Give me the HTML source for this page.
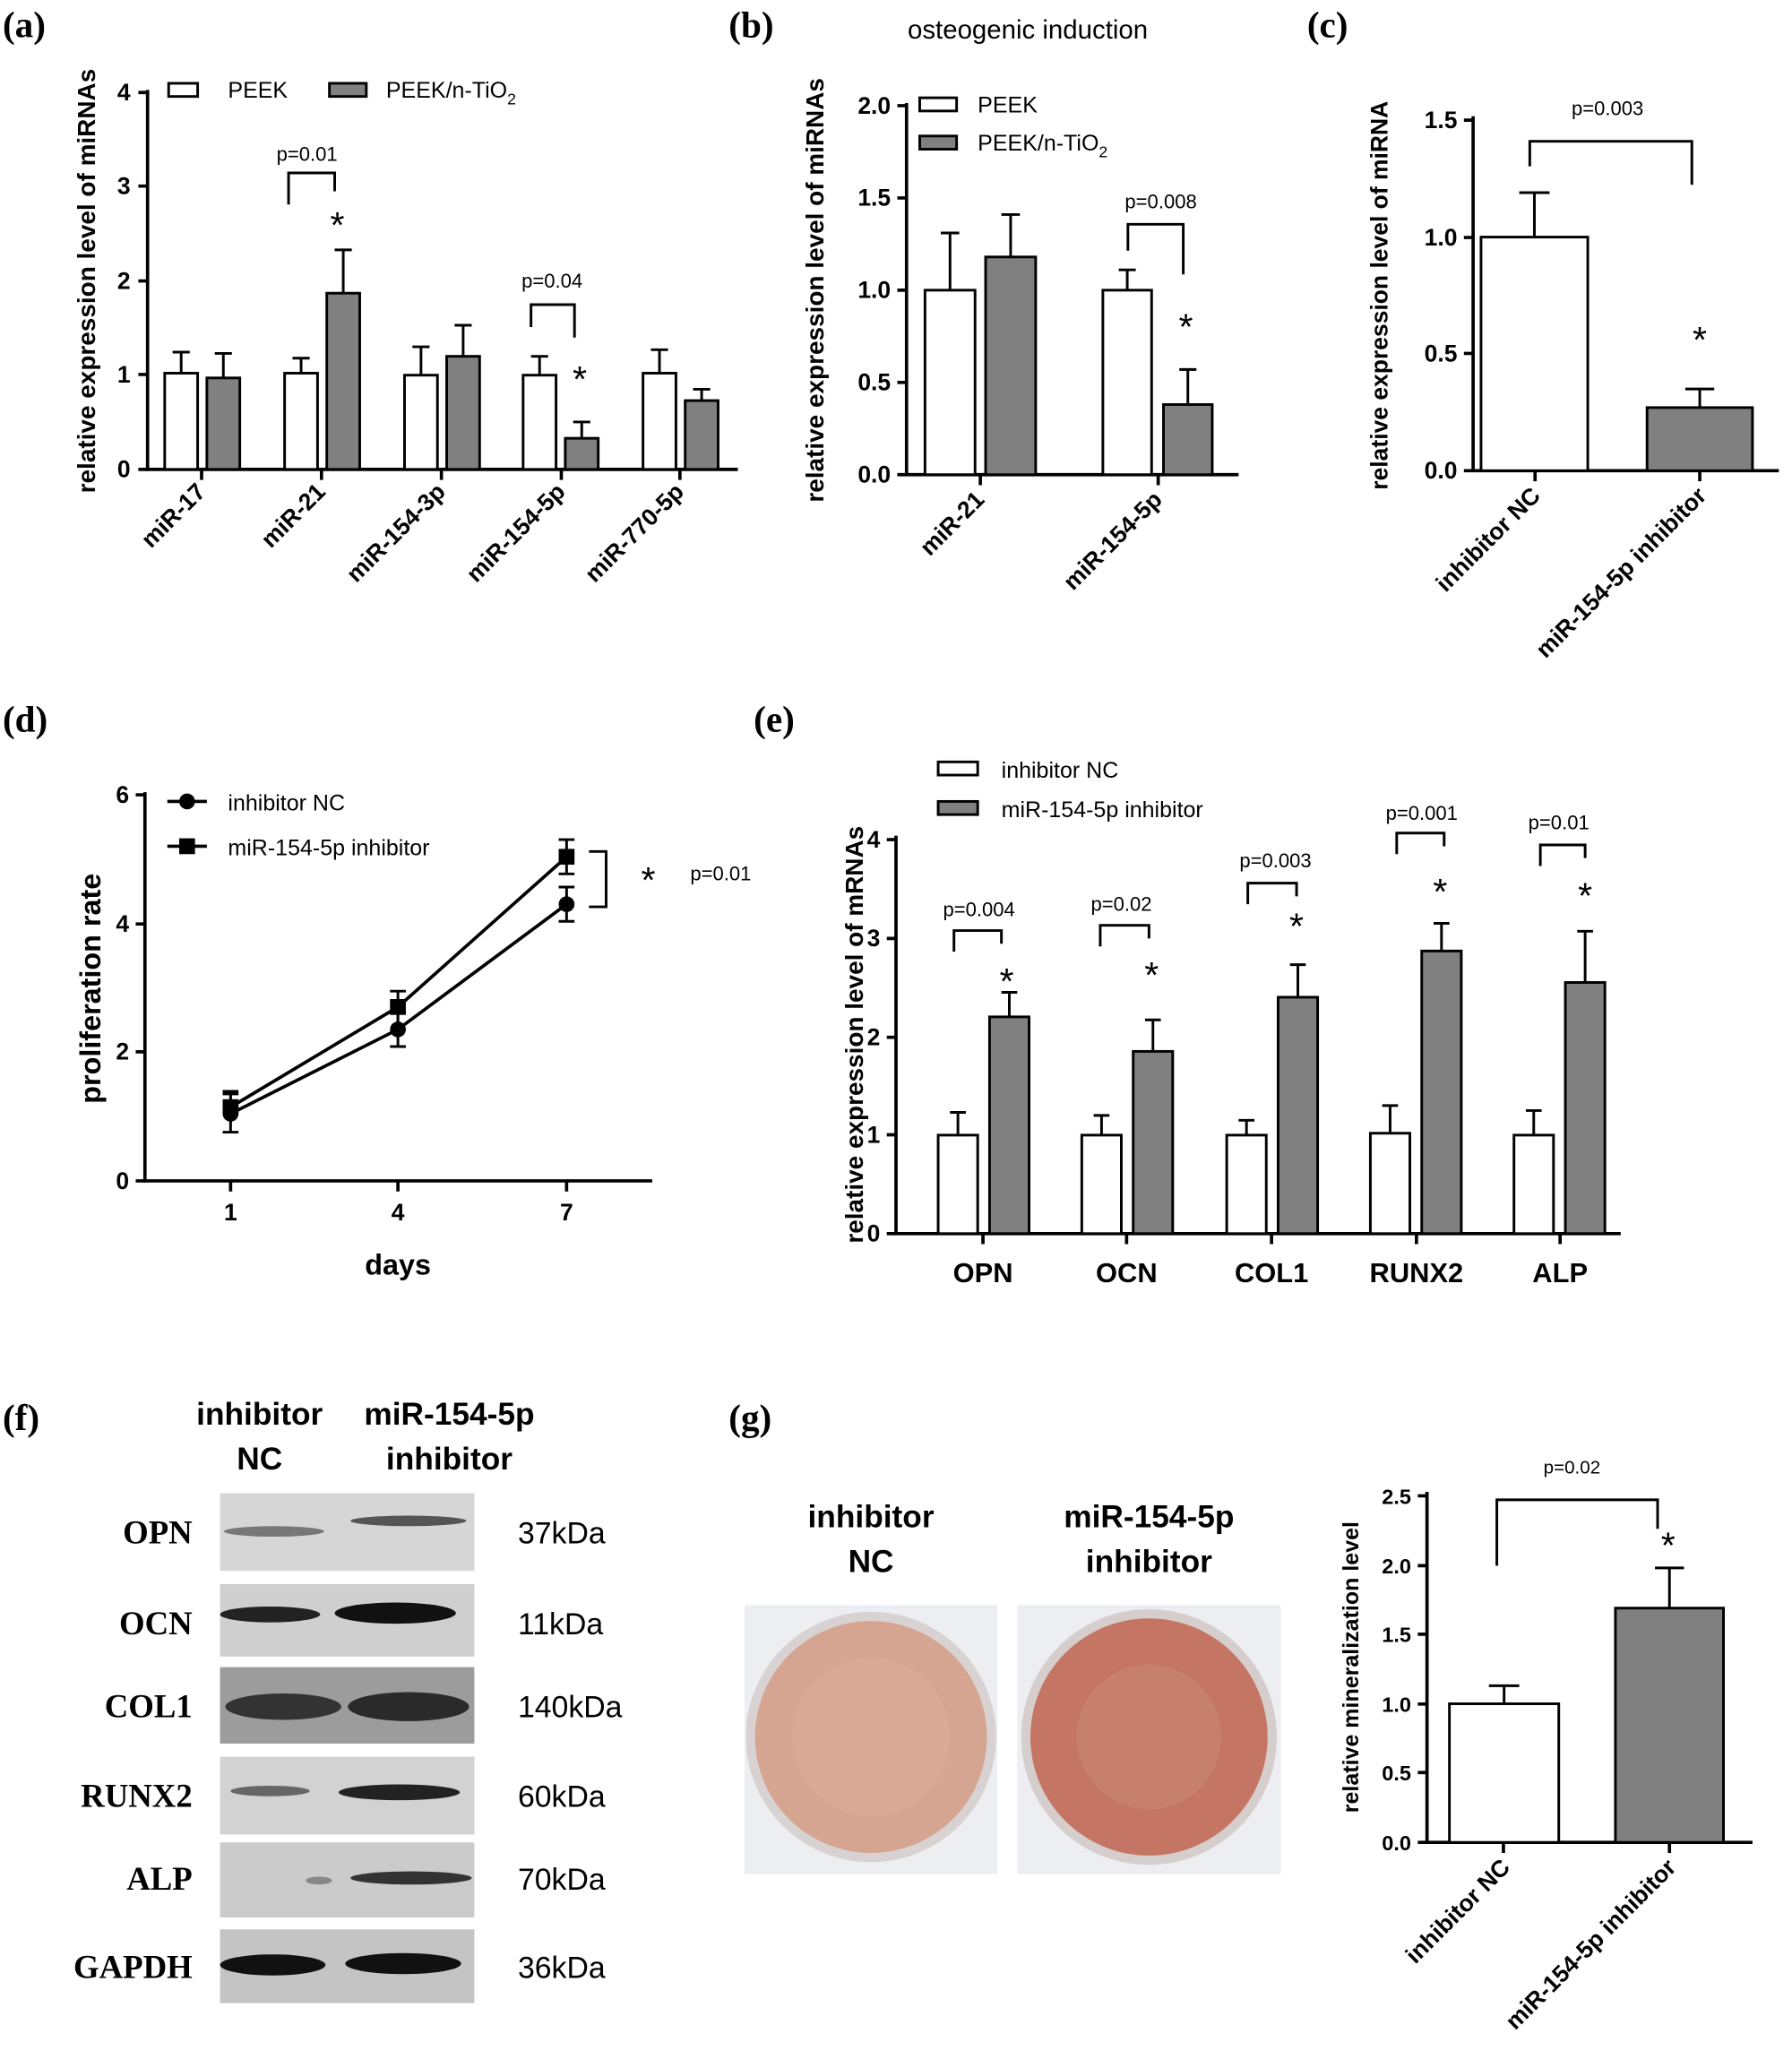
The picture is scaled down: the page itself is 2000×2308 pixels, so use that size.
<!DOCTYPE html>
<html><head><meta charset="utf-8"><style>
html,body{margin:0;padding:0;background:#fff;}
svg{display:block;}
text{font-family:"Liberation Sans",sans-serif;fill:#000;}
.t{font-size:18px;font-weight:bold;}
.s{font-size:15px;}
.lg{font-size:17px;}
.al{font-size:19px;font-weight:bold;}
text.pl{font-family:"Liberation Serif",serif;font-size:28px;font-weight:bold;}
.w{fill:#fff;stroke:#000;stroke-width:2;}
.g{fill:#808080;stroke:#000;stroke-width:2;}
.ax{stroke:#000;stroke-width:2.5;fill:none;}
.e{stroke:#000;stroke-width:2;fill:none;}
.st{font-size:28px;}
.wb text{font-family:"Liberation Serif",serif;font-size:25px;font-weight:bold;}
.kd{font-size:23px;}
</style></head><body>
<svg width="2000" height="2308" viewBox="0 0 1360 1569" xmlns="http://www.w3.org/2000/svg">
<rect width="1360" height="1569" fill="#fff"/>
<text class="pl" x="2" y="28">(a)</text>
<text class="pl" x="553" y="28">(b)</text>
<text class="pl" x="992" y="28">(c)</text>
<text class="pl" x="2" y="555">(d)</text>
<text class="pl" x="572" y="555">(e)</text>
<text class="pl" x="2" y="1085">(f)</text>
<text class="pl" x="553" y="1085">(g)</text>

<!-- ===== (a) ===== -->
<g>
<path class="ax" d="M112 68V356H560"/>
<path class="ax" d="M105 70H112M105 141H112M105 213H112M105 284H112M105 356H112"/>
<path class="ax" d="M153 356V364M244 356V364M335 356V364M426 356V364M516 356V364"/>
<text class="t" x="99" y="76" text-anchor="end">4</text>
<text class="t" x="99" y="147" text-anchor="end">3</text>
<text class="t" x="99" y="219" text-anchor="end">2</text>
<text class="t" x="99" y="290" text-anchor="end">1</text>
<text class="t" x="99" y="362" text-anchor="end">0</text>
<text class="al" transform="translate(72,213) rotate(-90)" text-anchor="middle">relative expression level of miRNAs</text>
<rect class="w" x="125" y="283" width="25" height="73"/><path class="e" d="M137.5 283V267M131 267H144"/>
<rect class="g" x="157" y="286.6" width="25" height="69.4"/><path class="e" d="M169.5 286.6V268M163 268H176"/>
<rect class="w" x="216" y="283" width="25" height="73"/><path class="e" d="M228.5 283V271.6M222 271.6H235"/>
<rect class="g" x="248" y="222.3" width="25" height="133.7"/><path class="e" d="M260.5 222.3V189.4M254 189.4H267"/>
<rect class="w" x="307" y="284.5" width="25" height="71.5"/><path class="e" d="M319.5 284.5V263M313 263H326"/>
<rect class="g" x="339" y="270.2" width="25" height="85.8"/><path class="e" d="M351.5 270.2V246.6M345 246.6H358"/>
<rect class="w" x="397" y="284.5" width="25" height="71.5"/><path class="e" d="M409.5 284.5V270.2M403 270.2H416"/>
<rect class="g" x="429" y="332.4" width="25" height="23.6"/><path class="e" d="M441.5 332.4V320M435 320H448"/>
<rect class="w" x="488" y="283" width="25" height="73"/><path class="e" d="M500.5 283V265.2M494 265.2H507"/>
<rect class="g" x="520" y="303.8" width="25" height="52.2"/><path class="e" d="M532.5 303.8V295.2M526 295.2H539"/>
<text class="t" transform="translate(157,374) rotate(-45)" text-anchor="end">miR-17</text>
<text class="t" transform="translate(248,374) rotate(-45)" text-anchor="end">miR-21</text>
<text class="t" transform="translate(339,374) rotate(-45)" text-anchor="end">miR-154-3p</text>
<text class="t" transform="translate(430,374) rotate(-45)" text-anchor="end">miR-154-5p</text>
<text class="t" transform="translate(520,374) rotate(-45)" text-anchor="end">miR-770-5p</text>
<rect class="w" x="128" y="63" width="22" height="10"/><text class="lg" x="173" y="74">PEEK</text>
<rect class="g" x="250" y="63" width="28" height="10"/><text class="lg" x="293" y="74">PEEK/n-TiO<tspan font-size="12" dy="5">2</tspan></text>
<text class="s" x="233" y="122" text-anchor="middle">p=0.01</text>
<path class="e" stroke-width="1.5" d="M219 155V131H254V145"/>
<text class="st" x="256" y="180" text-anchor="middle">*</text>
<text class="s" x="419" y="218" text-anchor="middle">p=0.04</text>
<path class="e" stroke-width="1.5" d="M403 248V231H436V256"/>
<text class="st" x="440" y="297" text-anchor="middle">*</text>
</g>

<!-- ===== (b) ===== -->
<g>
<text x="780" y="29" style="font-size:20px" text-anchor="middle">osteogenic induction</text>
<path class="ax" d="M688 78V360H940"/>
<path class="ax" d="M681 80H688M681 150H688M681 220H688M681 290H688M681 360H688"/>
<path class="ax" d="M744 360V368M879 360V368"/>
<text class="t" x="676" y="86" text-anchor="end">2.0</text>
<text class="t" x="676" y="156" text-anchor="end">1.5</text>
<text class="t" x="676" y="226" text-anchor="end">1.0</text>
<text class="t" x="676" y="296" text-anchor="end">0.5</text>
<text class="t" x="676" y="366" text-anchor="end">0.0</text>
<text class="al" transform="translate(625,220) rotate(-90)" text-anchor="middle">relative expression level of miRNAs</text>
<rect class="w" x="702" y="220" width="38" height="140"/><path class="e" d="M721 220V176.6M714 176.6H728"/>
<rect class="g" x="748" y="194.8" width="38" height="165.2"/><path class="e" d="M767 194.8V162.6M760 162.6H774"/>
<rect class="w" x="837" y="220" width="37" height="140"/><path class="e" d="M855.5 220V204.6M849 204.6H862"/>
<rect class="g" x="883" y="306.8" width="37" height="53.2"/><path class="e" d="M901.5 306.8V280.2M895 280.2H908"/>
<text class="t" transform="translate(748,380) rotate(-45)" text-anchor="end">miR-21</text>
<text class="t" transform="translate(883,380) rotate(-45)" text-anchor="end">miR-154-5p</text>
<rect class="w" x="698" y="74" width="28" height="10"/><text class="lg" x="742" y="85">PEEK</text>
<rect class="g" x="698" y="103" width="28" height="10"/><text class="lg" x="742" y="114">PEEK/n-TiO<tspan font-size="12" dy="5">2</tspan></text>
<text class="s" x="881" y="158" text-anchor="middle">p=0.008</text>
<path class="e" stroke-width="1.5" d="M856 190V170H898V208"/>
<text class="st" x="900" y="257" text-anchor="middle">*</text>
</g>

<!-- ===== (c) ===== -->
<g>
<path class="ax" d="M1118 88V357H1350"/>
<path class="ax" d="M1111 91H1118M1111 180H1118M1111 268H1118M1111 357H1118"/>
<path class="ax" d="M1165 357V365M1290 357V365"/>
<text class="t" x="1106" y="97" text-anchor="end">1.5</text>
<text class="t" x="1106" y="186" text-anchor="end">1.0</text>
<text class="t" x="1106" y="274" text-anchor="end">0.5</text>
<text class="t" x="1106" y="363" text-anchor="end">0.0</text>
<text class="al" transform="translate(1053,224) rotate(-90)" text-anchor="middle" style="font-size:18px">relative expression level of miRNA</text>
<rect class="w" x="1124" y="179.7" width="81" height="177.3"/><path class="e" d="M1164.5 179.7V146M1153 146H1176"/>
<rect class="g" x="1250" y="309.1" width="80" height="47.9"/><path class="e" d="M1290 309.1V295M1279 295H1301"/>
<text class="t" transform="translate(1170,377) rotate(-45)" text-anchor="end">inhibitor NC</text>
<text class="t" transform="translate(1296,377) rotate(-45)" text-anchor="end">miR-154-5p inhibitor</text>
<text class="s" x="1220" y="87" text-anchor="middle">p=0.003</text>
<path class="e" stroke-width="1.5" d="M1161 126V107H1284V140"/>
<text class="st" x="1290" y="267" text-anchor="middle">*</text>
</g>

<!-- ===== (d) ===== -->
<g>
<path class="ax" d="M110 601V896H495"/>
<path class="ax" d="M103 603H110M103 701H110M103 798H110M103 896H110"/>
<path class="ax" d="M175 896V904M302 896V904M430 896V904"/>
<text class="t" x="98" y="609" text-anchor="end">6</text>
<text class="t" x="98" y="707" text-anchor="end">4</text>
<text class="t" x="98" y="804" text-anchor="end">2</text>
<text class="t" x="98" y="902" text-anchor="end">0</text>
<text class="t" x="175" y="926" text-anchor="middle">1</text>
<text class="t" x="302" y="926" text-anchor="middle">4</text>
<text class="t" x="430" y="926" text-anchor="middle">7</text>
<text class="al" x="302" y="967" text-anchor="middle" style="font-size:22px">days</text>
<text class="al" transform="translate(76,750) rotate(-90)" text-anchor="middle" style="font-size:22px">proliferation rate</text>
<polyline points="175,845 302,781 430,686" fill="none" stroke="#000" stroke-width="2.5"/>
<polyline points="175,840 302,764 430,650" fill="none" stroke="#000" stroke-width="2.5"/>
<path class="e" d="M175 830V859M169 830H181M169 859H181M302 768V794M296 768H308M296 794H308M430 673V699M424 673H436M424 699H436"/>
<path class="e" d="M175 828V852M169 828H181M302 752V776M296 752H308M430 637V663M424 637H436M424 663H436"/>
<circle cx="175" cy="845" r="6"/><circle cx="302" cy="781" r="6"/><circle cx="430" cy="686" r="6"/>
<rect x="169" y="834" width="12" height="12"/><rect x="296" y="758" width="12" height="12"/><rect x="424" y="644" width="12" height="12"/>
<path d="M127 608H157M127 642H157" stroke="#000" stroke-width="2.5"/>
<circle cx="142" cy="608" r="6"/><rect x="136" y="636" width="12" height="12"/>
<text class="lg" x="173" y="615">inhibitor NC</text>
<text class="lg" x="173" y="649">miR-154-5p inhibitor</text>
<path class="e" stroke-width="1.5" d="M447 646H460V688H447"/>
<text class="st" x="492" y="677" text-anchor="middle">*</text>
<text class="s" x="547" y="668" text-anchor="middle">p=0.01</text>
</g>

<!-- ===== (e) ===== -->
<g>
<path class="ax" d="M680 634V936H1230"/>
<path class="ax" d="M673 637H680M673 712H680M673 787H680M673 861H680M673 936H680"/>
<path class="ax" d="M746 936V944M855 936V944M965 936V944M1075 936V944M1184 936V944"/>
<text class="t" x="668" y="643" text-anchor="end">4</text>
<text class="t" x="668" y="718" text-anchor="end">3</text>
<text class="t" x="668" y="793" text-anchor="end">2</text>
<text class="t" x="668" y="867" text-anchor="end">1</text>
<text class="t" x="668" y="942" text-anchor="end">0</text>
<text class="al" transform="translate(655,785) rotate(-90)" text-anchor="middle">relative expression level of mRNAs</text>
<rect class="w" x="712" y="861.25" width="30" height="74.75"/><path class="e" d="M727 861.25V844M721 844H733"/>
<rect class="g" x="751" y="771.5" width="30" height="164.5"/><path class="e" d="M766 771.5V752.9M760 752.9H772"/>
<rect class="w" x="821" y="861.25" width="30" height="74.75"/><path class="e" d="M836 861.25V846.3M830 846.3H842"/>
<rect class="g" x="860" y="797.7" width="30" height="138.3"/><path class="e" d="M875 797.7V773.8M869 773.8H881"/>
<rect class="w" x="931" y="861.25" width="30" height="74.75"/><path class="e" d="M946 861.25V850M940 850H952"/>
<rect class="g" x="970" y="756.6" width="30" height="179.4"/><path class="e" d="M985 756.6V731.9M979 731.9H991"/>
<rect class="w" x="1040" y="859.8" width="30" height="76.2"/><path class="e" d="M1055 859.8V838.8M1049 838.8H1061"/>
<rect class="g" x="1079" y="721.5" width="30" height="214.5"/><path class="e" d="M1094 721.5V700.5M1088 700.5H1100"/>
<rect class="w" x="1149" y="861.25" width="30" height="74.75"/><path class="e" d="M1164 861.25V842.6M1158 842.6H1170"/>
<rect class="g" x="1188" y="745.4" width="30" height="190.6"/><path class="e" d="M1203 745.4V706.5M1197 706.5H1209"/>
<g text-anchor="middle" style="font-size:21px;font-weight:bold">
<text x="746" y="973">OPN</text><text x="855" y="973">OCN</text><text x="965" y="973">COL1</text><text x="1075" y="973">RUNX2</text><text x="1184" y="973">ALP</text>
</g>
<rect class="w" x="712" y="578" width="30" height="10"/><text class="lg" x="760" y="590">inhibitor NC</text>
<rect class="g" x="712" y="608" width="30" height="10"/><text class="lg" x="760" y="620">miR-154-5p inhibitor</text>
<text class="s" text-anchor="middle" x="743" y="695">p=0.004</text><text class="s" text-anchor="middle" x="851" y="691">p=0.02</text><text class="s" text-anchor="middle" x="968" y="658">p=0.003</text><text class="s" text-anchor="middle" x="1079" y="622">p=0.001</text><text class="s" text-anchor="middle" x="1183" y="629">p=0.01</text>
<path class="e" stroke-width="1.5" d="M724 722V706H760V716M835 718V702H872V712M947 686V670H984V680M1060 648V632H1096V642M1169 657V641H1203V651"/>
<text class="st" text-anchor="middle" x="764" y="754">*</text><text class="st" text-anchor="middle" x="874" y="749">*</text><text class="st" text-anchor="middle" x="984" y="712">*</text><text class="st" text-anchor="middle" x="1093" y="686">*</text><text class="st" text-anchor="middle" x="1203" y="689">*</text>
</g>

<!-- ===== (f) ===== -->
<g>
<g text-anchor="middle" style="font-size:24px;font-weight:bold">
<text x="197" y="1081">inhibitor</text><text x="197" y="1115">NC</text>
<text x="341" y="1081">miR-154-5p</text><text x="341" y="1115">inhibitor</text>
</g>
<rect x="167" y="1133" width="193" height="59" fill="#d6d6d6"/>
<rect x="167" y="1202" width="193" height="55" fill="#cfcfcf"/>
<rect x="167" y="1265" width="193" height="58" fill="#9c9c9c"/>
<rect x="167" y="1333" width="193" height="59" fill="#d2d2d2"/>
<rect x="167" y="1398" width="193" height="57" fill="#cbcbcb"/>
<rect x="167" y="1464" width="193" height="56" fill="#c4c4c4"/>
<ellipse cx="208" cy="1162" rx="38" ry="4" fill="#777"/><ellipse cx="310" cy="1154" rx="44" ry="4" fill="#555"/>
<ellipse cx="205" cy="1225" rx="38" ry="6" fill="#222"/><ellipse cx="300" cy="1224" rx="46" ry="8" fill="#111"/>
<ellipse cx="215" cy="1295" rx="44" ry="10" fill="#333"/><ellipse cx="310" cy="1295" rx="46" ry="11" fill="#2a2a2a"/>
<ellipse cx="205" cy="1359" rx="30" ry="4" fill="#666"/><ellipse cx="303" cy="1360" rx="46" ry="6" fill="#222"/>
<ellipse cx="242" cy="1427" rx="10" ry="3" fill="#888"/><ellipse cx="312" cy="1425" rx="46" ry="5" fill="#333"/>
<ellipse cx="207" cy="1491" rx="40" ry="8" fill="#111"/><ellipse cx="306" cy="1490" rx="44" ry="8" fill="#111"/>
<g class="wb" text-anchor="end">
<text x="146" y="1171">OPN</text><text x="146" y="1240">OCN</text><text x="146" y="1303">COL1</text><text x="146" y="1371">RUNX2</text><text x="146" y="1434">ALP</text><text x="146" y="1501">GAPDH</text>
</g>
<text class="kd" x="393" y="1171">37kDa</text><text class="kd" x="393" y="1240">11kDa</text><text class="kd" x="393" y="1303">140kDa</text><text class="kd" x="393" y="1371">60kDa</text><text class="kd" x="393" y="1434">70kDa</text><text class="kd" x="393" y="1501">36kDa</text>
</g>

<!-- ===== (g) ===== -->
<g>
<g text-anchor="middle" style="font-size:24px;font-weight:bold">
<text x="661" y="1159">inhibitor</text><text x="661" y="1193">NC</text>
<text x="872" y="1159">miR-154-5p</text><text x="872" y="1193">inhibitor</text>
</g>
<rect x="565" y="1218" width="192" height="204" fill="#eceef2"/>
<rect x="772" y="1218" width="200" height="204" fill="#eceef2"/>
<circle cx="661" cy="1318" r="95" fill="#d8d2d2"/>
<circle cx="661" cy="1318" r="88" fill="#d5a592"/>
<circle cx="661" cy="1318" r="60" fill="#d9ab99" opacity="0.7"/>
<circle cx="872" cy="1318" r="97" fill="#d6cecc"/>
<circle cx="872" cy="1318" r="90" fill="#c47563"/>
<circle cx="872" cy="1318" r="55" fill="#c98471" opacity="0.7"/>
<path class="ax" d="M1083 1132V1398H1330"/>
<path class="ax" d="M1076 1135H1083M1076 1188H1083M1076 1240H1083M1076 1293H1083M1076 1345H1083M1076 1398H1083"/>
<path class="ax" d="M1141 1398V1406M1267 1398V1406"/>
<g text-anchor="end" style="font-size:16px;font-weight:bold">
<text x="1071" y="1141">2.5</text><text x="1071" y="1194">2.0</text><text x="1071" y="1246">1.5</text><text x="1071" y="1299">1.0</text><text x="1071" y="1351">0.5</text><text x="1071" y="1404">0.0</text>
</g>
<text class="al" transform="translate(1031,1265) rotate(-90)" text-anchor="middle" style="font-size:17px">relative mineralization level</text>
<rect class="w" x="1100" y="1292.8" width="83" height="105.2"/><path class="e" d="M1141.5 1292.8V1279.1M1130 1279.1H1153"/>
<rect class="g" x="1226" y="1220.2" width="82" height="177.8"/><path class="e" d="M1267 1220.2V1189.7M1256 1189.7H1278"/>
<text class="t" transform="translate(1147,1418) rotate(-45)" text-anchor="end">inhibitor NC</text>
<text class="t" transform="translate(1273,1418) rotate(-45)" text-anchor="end">miR-154-5p inhibitor</text>
<text class="s" x="1193" y="1118" text-anchor="middle" style="font-size:14px">p=0.02</text>
<path class="e" stroke-width="1.5" d="M1136 1188V1138H1258V1160"/>
<text class="st" x="1266" y="1182" text-anchor="middle">*</text>
</g>
</svg>
</body></html>
